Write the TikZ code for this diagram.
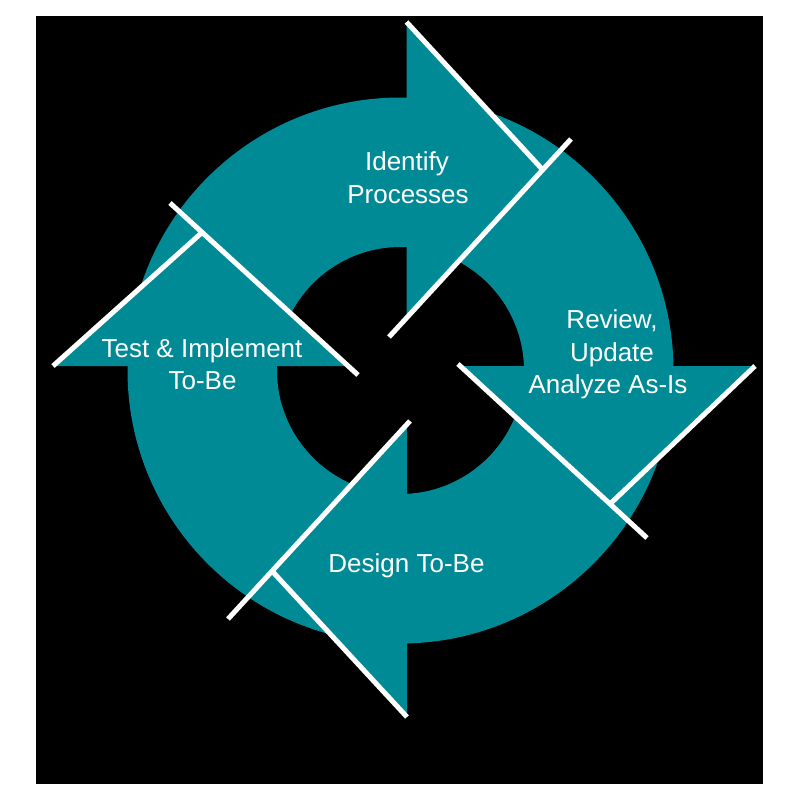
\documentclass[tikz,border=0pt]{standalone}
\usepackage{fontspec}
\setmainfont{Liberation Sans}
\definecolor{ringteal}{RGB}{0,138,150}
\begin{document}
\begin{tikzpicture}[x=1pt,y=-1pt,
  sep/.style={draw=white,line width=5pt,line cap=butt},
  lbl/.style={text=white,anchor=base,inner sep=0pt,font=\fontsize{26}{30}\selectfont}]
\useasboundingbox (0,0) rectangle (800,800);
\fill[black] (36,16) rectangle (763,784);
% ring
\coordinate (C) at (400.5,370.5);
\fill[ringteal,even odd rule] (C) circle[radius=273pt] (C) circle[radius=123.5pt];
% top arrowhead
\coordinate (t1) at (406.5,22);
\coordinate (t2) at (406.5,318);
\coordinate (tJ) at (542,169);
\coordinate (tA) at (389,337);
\coordinate (tB) at (571,139);
% review arrowhead
\coordinate (r1) at (755,366);
\coordinate (r2) at (458,366);
\coordinate (rJ) at (610,504);
\coordinate (rA) at (458,364);
\coordinate (rB) at (647,538);
% design arrowhead
\coordinate (d1) at (407,717);
\coordinate (d2) at (407,424.3);
\coordinate (dJ) at (272,571);
\coordinate (dA) at (410,421);
\coordinate (dB) at (228,619);
% test arrowhead
\coordinate (s1) at (53,366);
\coordinate (s2) at (348.2,366);
\coordinate (sJ) at (202,232.5);
\coordinate (sA) at (358,375);
\coordinate (sB) at (170,203);
\fill[ringteal] (t1) -- (t2) -- (tJ) -- cycle;
\fill[ringteal] (r1) -- (r2) -- (rJ) -- cycle;
\fill[ringteal] (d1) -- (d2) -- (dJ) -- cycle;
\fill[ringteal] (s1) -- (s2) -- (sJ) -- cycle;
% white separators
\draw[sep] (t1) -- (tJ);
\draw[sep] (tA) -- (tB);
\draw[sep] (r1) -- (rJ);
\draw[sep] (rA) -- (rB);
\draw[sep] (d1) -- (dJ);
\draw[sep] (dA) -- (dB);
\draw[sep] (s1) -- (sJ);
\draw[sep] (sA) -- (sB);
% labels
\node[lbl] (id1) at (407,170) {Identify};
\node[lbl] (id2) at (408,203) {Processes};
\node[lbl] (rv1) at (612,328) {Review,};
\node[lbl] (rv2) at (612,361) {Update};
\node[lbl] (rv3) at (608,393.5) {Analyze As-Is};
\node[lbl] (de1) at (406.5,572.5) {Design To-Be};
\node[lbl] (te1) at (202,357) {Test \& Implement};
\node[lbl] (te2) at (202.5,389.5) {To-Be};
\end{tikzpicture}
\end{document}
